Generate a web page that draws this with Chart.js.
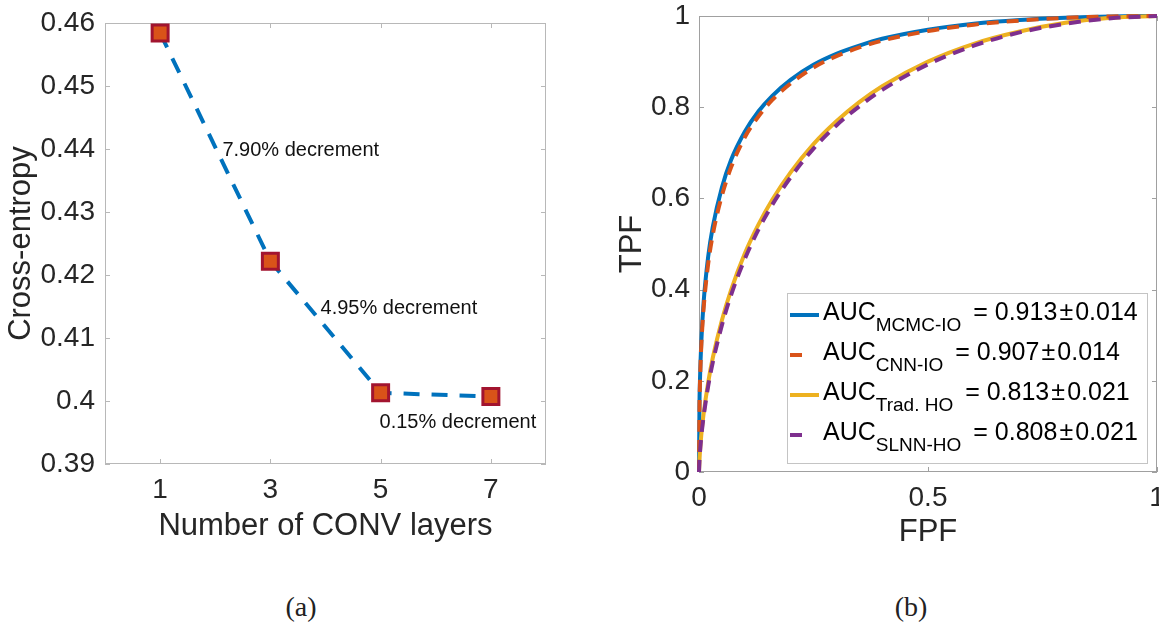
<!DOCTYPE html>
<html>
<head>
<meta charset="utf-8">
<script src="https://cdn.jsdelivr.net/npm/chart.js@4.4.1/dist/chart.umd.min.js"></script>
<style>
    body { margin: 0; background: #fff; width: 1159px; height: 624px; overflow: hidden; position: relative; }
    .panel { position: absolute; top: 0; }
    .caption {
        position: absolute; top: 592px; width: 60px; margin-left: -30px; text-align: center;
        font-family: "Liberation Serif", "DejaVu Serif", serif; font-size: 28px; line-height: 30px; color: #222;
    }
</style>
</head>
<body>
<canvas id="lossChart" class="panel" style="left:0" width="580" height="560"></canvas>
<canvas id="rocChart" class="panel" style="left:580px" width="579" height="560"></canvas>
<div class="caption" style="left:301px">(a)</div>
<div class="caption" style="left:911px">(b)</div>
<script>
// (a) cross-entropy vs number of CONV layers
const convLayers = [1, 3, 5, 7];
const crossEntropy = [0.4584, 0.4222, 0.4013, 0.4007];
const lossTicks = [0.39, 0.40, 0.41, 0.42, 0.43, 0.44, 0.45, 0.46];
const decrementLabels = ['7.90% decrement', '4.95% decrement', '0.15% decrement'];

// (b) ROC curves
const fpfPoints = [0, 0.001, 0.002, 0.005, 0.01, 0.02, 0.03, 0.05, 0.07, 0.1, 0.13, 0.16, 0.2, 0.25, 0.3, 0.35, 0.4, 0.5, 0.6, 0.7, 0.8, 0.9, 1];
const tpfMcmcIo = [0, 0.146, 0.197, 0.285, 0.371, 0.472, 0.537, 0.624, 0.684, 0.746, 0.791, 0.825, 0.860, 0.893, 0.917, 0.935, 0.950, 0.970, 0.983, 0.991, 0.996, 0.999, 1];
const tpfCnnIo = [0, 0.141, 0.190, 0.276, 0.358, 0.456, 0.520, 0.606, 0.668, 0.734, 0.780, 0.816, 0.852, 0.887, 0.912, 0.931, 0.946, 0.967, 0.981, 0.990, 0.996, 0.999, 1];
const tpfTradHo = [0, 0.027, 0.043, 0.081, 0.127, 0.196, 0.250, 0.333, 0.399, 0.479, 0.543, 0.597, 0.657, 0.719, 0.769, 0.811, 0.846, 0.900, 0.939, 0.966, 0.985, 0.996, 1];
const tpfSlnnHo = [0, 0.025, 0.041, 0.077, 0.121, 0.188, 0.240, 0.322, 0.388, 0.467, 0.532, 0.586, 0.646, 0.709, 0.760, 0.802, 0.838, 0.894, 0.935, 0.964, 0.983, 0.995, 1];
const fpfTicks = [0, 0.5, 1];
const tpfTicks = [0, 0.2, 0.4, 0.6, 0.8, 1];
const aucNames = ['MCMC-IO', 'CNN-IO', 'Trad. HO', 'SLNN-HO'];
const aucValues = ['0.913', '0.907', '0.813', '0.808'];
const aucErrors = ['0.014', '0.014', '0.021', '0.021'];

const FONT = '"Liberation Sans", Arial, Helvetica, sans-serif';
const TEXT = '#262626';

// where the "% decrement" notes sit, in data units (left edge, middle)
const decrementAnchors = [[2.13, 0.4397], [3.91, 0.4147], [4.98, 0.3966]];

function toPairs(xs, ys) {
    return xs.map((x, i) => ({ x: x, y: ys[i] }));
}

function fmt(v) {
    return String(+Number(v).toFixed(2));
}

// matlab style box with inward ticks on all four sides
const boxFrame = {
    id: 'boxFrame',
    beforeDatasetsDraw(chart, args, opts) {
        const { ctx, chartArea: a, scales } = chart;
        const len = 5;
        ctx.save();
        ctx.strokeStyle = opts.color;
        ctx.lineWidth = 1;
        ctx.strokeRect(a.left + 0.5, a.top + 0.5, a.right - a.left - 1, a.bottom - a.top - 1);
        ctx.beginPath();
        scales.x.ticks.forEach(t => {
            const px = Math.round(scales.x.getPixelForValue(t.value)) + 0.5;
            ctx.moveTo(px, a.bottom); ctx.lineTo(px, a.bottom - len);
            ctx.moveTo(px, a.top); ctx.lineTo(px, a.top + len);
        });
        scales.y.ticks.forEach(t => {
            const py = Math.round(scales.y.getPixelForValue(t.value)) + 0.5;
            ctx.moveTo(a.left, py); ctx.lineTo(a.left + len, py);
            ctx.moveTo(a.right, py); ctx.lineTo(a.right - len, py);
        });
        ctx.stroke();
        ctx.restore();
    }
};

const decrementNotes = {
    id: 'decrementNotes',
    afterDatasetsDraw(chart) {
        const { ctx, scales } = chart;
        ctx.save();
        ctx.font = '20px ' + FONT;
        ctx.fillStyle = '#111';
        ctx.textAlign = 'left';
        ctx.textBaseline = 'middle';
        decrementLabels.forEach((txt, i) => {
            const [dx, dy] = decrementAnchors[i];
            ctx.fillText(txt, scales.x.getPixelForValue(dx), scales.y.getPixelForValue(dy));
        });
        ctx.restore();
    }
};

// legend with subscripts, drawn by hand (chart.js legend has no sub text)
const aucLegend = {
    id: 'aucLegend',
    afterDatasetsDraw(chart) {
        const { ctx, chartArea: a } = chart;
        const w = 360, h = 170;
        const left = a.right - 10 - w;
        const top = a.bottom - 9 - h;
        ctx.save();
        ctx.fillStyle = '#fff';
        ctx.fillRect(left, top, w, h);
        ctx.strokeStyle = '#c4c4c4';
        ctx.lineWidth = 1;
        ctx.strokeRect(left + 0.5, top + 0.5, w, h);
        chart.data.datasets.forEach((ds, i) => {
            const cy = top + 20 + i * 40;
            ctx.strokeStyle = ds.borderColor;
            ctx.lineWidth = ds.borderWidth;
            ctx.setLineDash(ds.borderDash ? [12, 40] : []);
            ctx.beginPath();
            ctx.moveTo(left + 3, cy + 2);
            ctx.lineTo(left + 32, cy + 2);
            ctx.stroke();
            ctx.setLineDash([]);

            ctx.fillStyle = '#000';
            ctx.textBaseline = 'middle';
            let x = left + 36;
            ctx.font = '25px ' + FONT;
            ctx.fillText('AUC', x, cy);
            x += ctx.measureText('AUC').width;
            ctx.font = '19px ' + FONT;
            ctx.fillText(aucNames[i], x, cy + 13);
            x += ctx.measureText(aucNames[i]).width;
            ctx.font = '25px ' + FONT;
            ctx.fillText(' \u2009= ' + aucValues[i] + '\u200A\u00B1\u200A' + aucErrors[i], x, cy);
        });
        ctx.restore();
    }
};

const tickFont = { family: FONT, size: 28 };
const titleFont = { family: FONT, size: 31 };

// Cross-entropy chart
const lossCtx = document.getElementById('lossChart').getContext('2d');
const lossChart = new Chart(lossCtx, {
    type: 'line',
    data: {
        datasets: [{
            data: toPairs(convLayers, crossEntropy),
            borderColor: '#0072BD',
            borderWidth: 4,
            borderDash: [16, 12],
            pointStyle: 'rect',
            pointRadius: 11.3,
            pointHoverRadius: 11.3,
            pointBackgroundColor: '#D95319',
            pointBorderColor: '#A2142F',
            pointBorderWidth: 3,
            clip: false
        }]
    },
    options: {
        responsive: false,
        animation: false,
        events: [],
        layout: { padding: { top: 23, right: 34, left: 0, bottom: 0 } },
        plugins: {
            legend: { display: false },
            tooltip: { enabled: false },
            boxFrame: { color: '#b8b8b8' }
        },
        scales: {
            x: {
                type: 'linear',
                min: 0,
                max: 8,
                afterBuildTicks: s => { s.ticks = convLayers.map(v => ({ value: v })); },
                afterFit: s => { s.height = 96; s.paddingLeft = 0; s.paddingRight = 0; },
                grid: { display: false, drawTicks: false },
                border: { display: false },
                ticks: { font: tickFont, color: TEXT, padding: 9, maxRotation: 0, autoSkip: false, callback: v => fmt(v) },
                title: { display: true, text: 'Number of CONV layers', font: titleFont, color: TEXT, padding: { top: 0, bottom: 15 } }
            },
            y: {
                min: 0.39,
                max: 0.46,
                afterBuildTicks: s => { s.ticks = lossTicks.map(v => ({ value: v })); },
                afterFit: s => { s.width = 105; s.paddingTop = 0; s.paddingBottom = 0; },
                grid: { display: false, drawTicks: false },
                border: { display: false },
                ticks: { font: tickFont, color: TEXT, padding: 10, autoSkip: false, callback: v => fmt(v) },
                title: { display: true, text: 'Cross-entropy', font: titleFont, color: TEXT, padding: { top: 3, bottom: 0 } }
            }
        }
    },
    plugins: [boxFrame, decrementNotes]
});

// ROC chart
const rocCtx = document.getElementById('rocChart').getContext('2d');
const rocChart = new Chart(rocCtx, {
    type: 'line',
    data: {
        datasets: [
            { data: toPairs(fpfPoints, tpfMcmcIo), borderColor: '#0072BD', borderWidth: 4, order: 4 },
            { data: toPairs(fpfPoints, tpfCnnIo), borderColor: '#D95319', borderWidth: 4, borderDash: [12, 8], order: 2 },
            { data: toPairs(fpfPoints, tpfTradHo), borderColor: '#EDB120', borderWidth: 4, order: 3 },
            { data: toPairs(fpfPoints, tpfSlnnHo), borderColor: '#7E2F8E', borderWidth: 4, borderDash: [12, 8], order: 1 }
        ]
    },
    options: {
        responsive: false,
        animation: false,
        events: [],
        datasets: {
            line: { pointRadius: 0, cubicInterpolationMode: 'monotone', clip: false, fill: false }
        },
        layout: { padding: { top: 16, right: 2, left: 0, bottom: 0 } },
        plugins: {
            legend: { display: false },
            tooltip: { enabled: false },
            boxFrame: { color: '#a0a0a0' }
        },
        scales: {
            x: {
                type: 'linear',
                min: 0,
                max: 1,
                afterBuildTicks: s => { s.ticks = fpfTicks.map(v => ({ value: v })); },
                afterFit: s => { s.height = 88; s.paddingLeft = 0; s.paddingRight = 0; },
                grid: { display: false, drawTicks: false },
                border: { display: false },
                ticks: { font: tickFont, color: TEXT, padding: 9, maxRotation: 0, autoSkip: false, callback: v => fmt(v) },
                title: { display: true, text: 'FPF', font: titleFont, color: TEXT, padding: { top: 0, bottom: 9 } }
            },
            y: {
                min: 0,
                max: 1,
                afterBuildTicks: s => { s.ticks = tpfTicks.map(v => ({ value: v })); },
                afterFit: s => { s.width = 119; s.paddingTop = 0; s.paddingBottom = 0; },
                grid: { display: false, drawTicks: false },
                border: { display: false },
                ticks: { font: tickFont, color: TEXT, padding: 9, autoSkip: false, callback: v => fmt(v) },
                title: { display: true, text: 'TPF', font: titleFont, color: TEXT, padding: { top: 34, bottom: 0 } }
            }
        }
    },
    plugins: [boxFrame, aucLegend]
});
</script>
</body>
</html>
